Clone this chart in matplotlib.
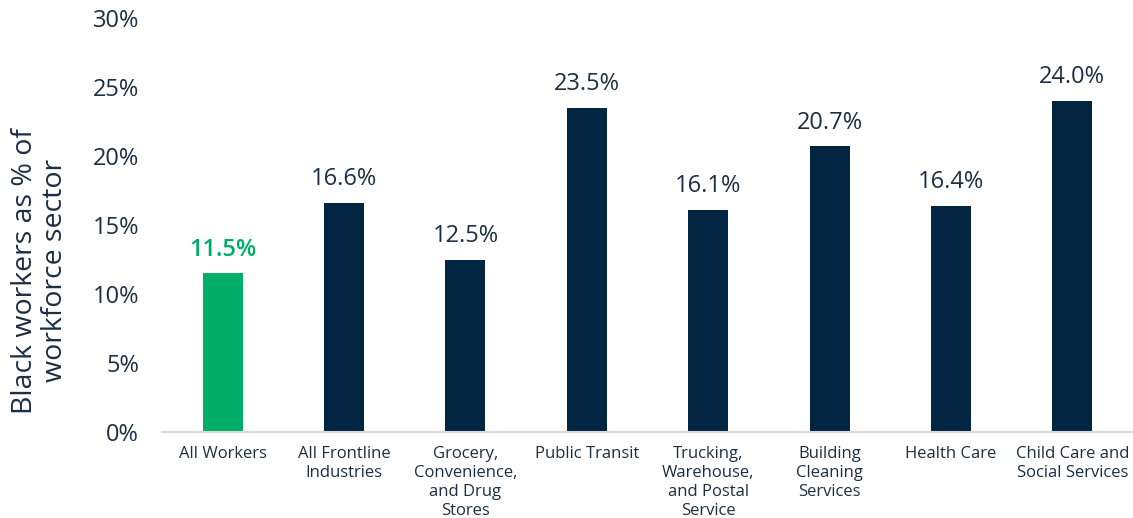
import matplotlib
matplotlib.use("Agg")
import matplotlib.pyplot as plt
import numpy as np

categories = [
    "All Workers",
    "All Frontline\nIndustries",
    "Grocery,\nConvenience,\nand Drug\nStores",
    "Public Transit",
    "Trucking,\nWarehouse,\nand Postal\nService",
    "Building\nCleaning\nServices",
    "Health Care",
    "Child Care and\nSocial Services",
]
values = [11.5, 16.6, 12.5, 23.5, 16.1, 20.7, 16.4, 24.0]
yticks = [0, 5, 10, 15, 20, 25, 30]

NAVY = "#022641"
GREEN = "#00AE68"
TEXT = "#1B2F44"

plt.rcParams["font.family"] = ["Open Sans", "DejaVu Sans"]

fig = plt.figure(figsize=(11.33, 5.18), dpi=100)
ax = fig.add_axes([0.143, 0.166, 0.857, 0.799])

x = np.arange(len(categories))
colors = [GREEN] + [NAVY] * (len(categories) - 1)
bars = ax.bar(x, values, width=0.33, color=colors)

# value labels above bars, first one highlighted
for i, (b, v) in enumerate(zip(bars, values)):
    ax.text(b.get_x() + b.get_width() / 2, v + 0.85, f"{v:.1f}%",
            ha="center", va="bottom", fontsize=17,
            color=GREEN if i == 0 else TEXT,
            fontweight="semibold" if i == 0 else "normal")

ax.set_xlim(-0.5, len(categories) - 0.5)
ax.set_ylim(0, 30)
ax.set_yticks(yticks)
ax.set_yticklabels([f"{t}%" for t in yticks], fontsize=17, color=TEXT)
ax.set_xticks(x)
ax.set_xticklabels(categories, fontsize=12, color=TEXT, linespacing=1.25)
ax.tick_params(axis="both", length=0)
ax.tick_params(axis="x", pad=10)
ax.tick_params(axis="y", pad=16.5)

for s in ["top", "right", "left"]:
    ax.spines[s].set_visible(False)
ax.spines["bottom"].set_color("#D9D9D9")
ax.spines["bottom"].set_linewidth(1.5)

fig.text(0.035, 0.477, "Black workers as % of\nworkforce sector", rotation=90,
         ha="center", va="center", fontsize=20.5, color=TEXT, linespacing=1.1)

fig.savefig("out.png", dpi=100)
